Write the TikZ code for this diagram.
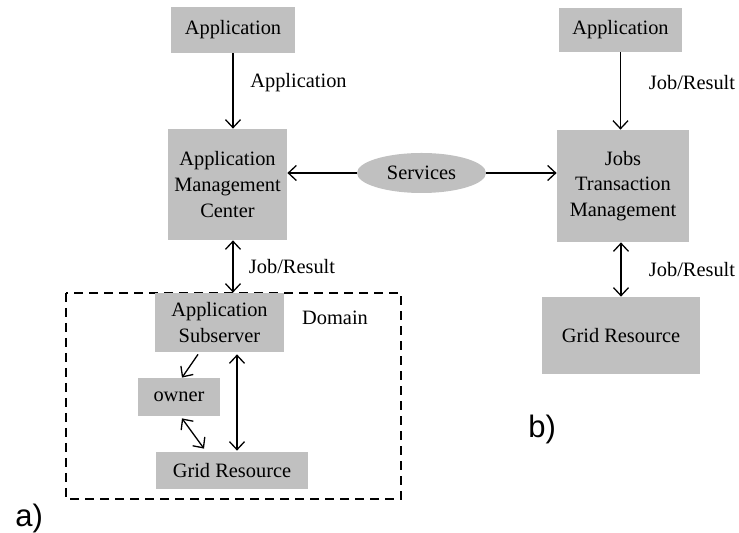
\documentclass[tikz,border=0pt]{standalone}
\usepackage{fontspec}
\setmainfont{Liberation Serif}
\newfontfamily\panelfont{Liberation Sans}
\usetikzlibrary{arrows.meta}
\usetikzlibrary{shapes.geometric}

\begin{document}
\begin{tikzpicture}[x=0.5pt, y=-0.5pt, font=\fontsize{10.2}{12.8}\selectfont,
    graybox/.style={fill={rgb,255:red,192;green,192;blue,192}, align=center, inner sep=0pt},
    link/.style={line width=0.65pt, -{Straight Barb[length=4pt,width=7.5pt]}},
    dlink/.style={line width=0.65pt, {Straight Barb[length=4pt,width=7.5pt]}-{Straight Barb[length=4pt,width=7.5pt]}},
    domainbox/.style={draw, dashed, line width=0.65pt, dash pattern=on 4.5pt off 3pt},
    panel/.style={anchor=base west, inner sep=0pt, font=\panelfont\fontsize{15.5}{18}\selectfont}]

    \useasboundingbox (0, 0) rectangle (739, 533);

    % a)
    \node at (233, 30) [graybox, minimum width=62pt, minimum height=23pt] (app_1) {Application};
    \node at (227.5, 184.5) [graybox, minimum width=59.5pt, minimum height=55.5pt] (amc) {Application\\Management\\Center};
    \node at (421.5, 173) [ellipse, graybox, minimum width=64.5pt, minimum height=20pt] (srv) {Services};

    \draw[domainbox] (66, 293) rectangle (401, 499);
    \node at (219.5, 322.5) [graybox, minimum width=64.5pt, minimum height=29.5pt] (sub) {Application\\Subserver};
    \node at (179, 397) [graybox, minimum width=41pt, minimum height=19pt] (owner) {owner};
    \node at (232, 470.5) [graybox, minimum width=76pt, minimum height=18.5pt] (grid_1) {Grid Resource};

    % b)
    \node at (620.5, 30) [graybox, minimum width=61.5pt, minimum height=22pt] (app_2) {Application};
    \node at (623, 186) [graybox, minimum width=66pt, minimum height=56pt] (jtm) {Jobs\\Transaction\\Management};
    \node at (621, 335.5) [graybox, minimum width=79pt, minimum height=38.5pt] (grid_2) {Grid Resource};

    \draw[link] (app_1.south) -- (app_1.south |- amc.north);
    \draw[link] (srv.west) -- (srv.west -| amc.east);
    \draw[link] (srv.east) -- (srv.east -| jtm.west);
    \draw[link] (app_2.south) -- (app_2.south |- jtm.north);
    \draw[dlink] (grid_2.north |- jtm.south) -- (grid_2.north);
    \draw[dlink] ([xshift=2.75pt]amc.south) -- ([xshift=2.75pt]amc.south |- sub.north);
    \draw[link] ([xshift=-10.75pt,yshift=-1pt]sub.south) -- ([xshift=1.5pt]owner.north);
    \draw[dlink] ([xshift=1.5pt,yshift=-1pt]owner.south) -- ([xshift=-14pt,yshift=1.5pt]grid_1.north);
    \draw[dlink] ([xshift=8.75pt,yshift=-1pt]sub.south) -- ([xshift=8.75pt,yshift=0.5pt]sub.south |- grid_1.north);

    \node at (298.5, 83) (lbl_app) {Application};
    \node at (292, 267) (lbl_job_1) {Job/Result};
    \node at (692, 83) (lbl_job_2) {Job/Result};
    \node at (692, 270) (lbl_job_3) {Job/Result};
    \node at (335, 318) (lbl_domain) {Domain};

    \node at (15, 527) [panel] (tag_a) {a)};
    \node at (528, 438) [panel] (tag_b) {b)};
\end{tikzpicture}
\end{document}
